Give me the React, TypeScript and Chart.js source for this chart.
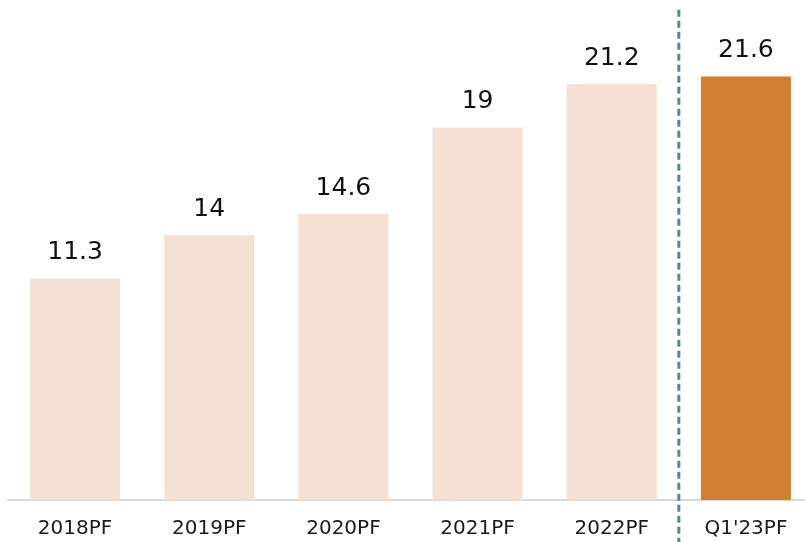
import React, { useEffect, useRef } from "react";
import { Chart, registerables } from "chart.js";

Chart.register(...registerables);

const categories = ["2018PF", "2019PF", "2020PF", "2021PF", "2022PF", "Q1'23PF"];
const values = [11.3, 13.5, 14.6, 19.0, 21.2, 21.6];
const valueLabels = ["11.3", "14", "14.6", "19", "21.2", "21.6"];
const barColors = ["#F5E1D3", "#F5E1D3", "#F5E1D3", "#F5E1D3", "#F5E1D3", "#D07F31"];

const FONT = "'DejaVu Sans', Verdana, sans-serif";

const valueLabelPlugin = {
  id: "valueLabels",
  afterDatasetsDraw(chart: any) {
    const ctx = chart.ctx;
    const meta = chart.getDatasetMeta(0);
    ctx.save();
    ctx.font = `25px ${FONT}`;
    ctx.fillStyle = "#111111";
    ctx.textAlign = "center";
    ctx.textBaseline = "alphabetic";
    meta.data.forEach((bar: any, i: number) => {
      ctx.fillText(valueLabels[i], bar.x, bar.y - 19);
    });
    ctx.restore();
  },
};

const dividerPlugin = {
  id: "divider",
  afterDraw(chart: any) {
    const ctx = chart.ctx;
    const xs = chart.scales.x;
    const ys = chart.scales.y;
    const x = xs.getPixelForValue(categories.length - 1.5);
    const top = ys.getPixelForValue(25);
    ctx.save();
    ctx.strokeStyle = "#5A8591";
    ctx.lineWidth = 3;
    ctx.setLineDash([7, 4]);
    ctx.beginPath();
    ctx.moveTo(x, top);
    ctx.lineTo(x, chart.height);
    ctx.stroke();
    ctx.restore();
  },
};

export default function App() {
  const ref = useRef<HTMLCanvasElement | null>(null);

  useEffect(() => {
    if (!ref.current) return;
    const chart = new Chart(ref.current, {
      type: "bar",
      data: {
        labels: categories,
        datasets: [
          {
            data: values,
            backgroundColor: barColors,
            borderWidth: 0,
            categoryPercentage: 1,
            barPercentage: 0.671,
          },
        ],
      },
      options: {
        responsive: false,
        animation: false,
        devicePixelRatio: 1,
        layout: { padding: { left: 8, right: 0, top: 0, bottom: 0 } },
        plugins: {
          legend: { display: false },
          tooltip: { enabled: false },
        },
        scales: {
          x: {
            grid: { display: false },
            border: { display: true, color: "#D9D9D9", width: 2 },
            ticks: {
              font: { family: FONT, size: 20 },
              color: "#1a1a1a",
              padding: 9,
              maxRotation: 0,
              autoSkip: false,
            },
            afterFit(scale: any) {
              scale.height = 42;
            },
          },
          y: {
            display: false,
            min: 0,
            max: 25.5,
          },
        },
      },
      plugins: [valueLabelPlugin, dividerPlugin],
    });
    return () => chart.destroy();
  }, []);

  return (
    <div
      style={{
        position: "absolute",
        left: 0,
        top: 0,
        width: 805,
        height: 542,
        overflow: "hidden",
        background: "#ffffff",
      }}
    >
      <canvas ref={ref} width={813} height={542} style={{ display: "block" }} />
    </div>
  );
}
